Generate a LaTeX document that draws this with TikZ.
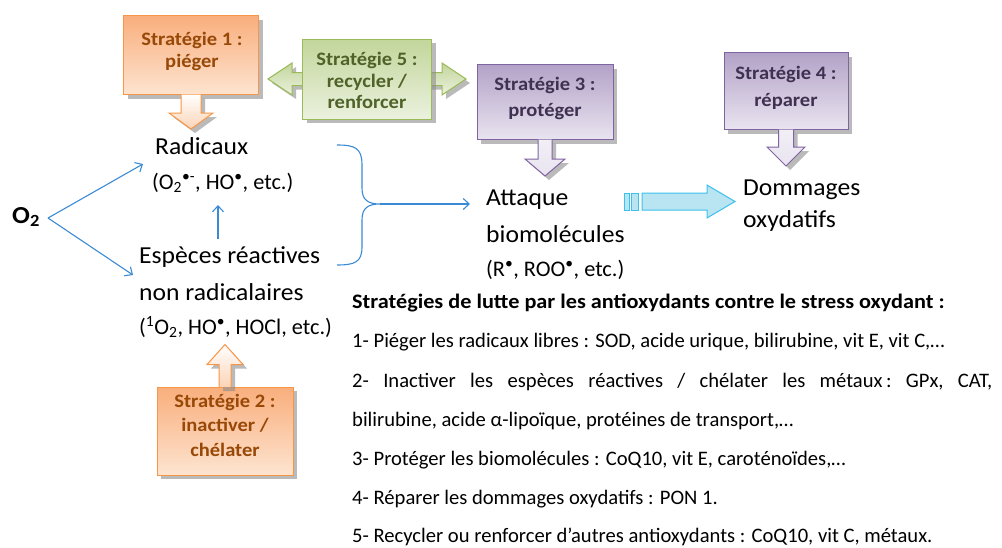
\documentclass[tikz,border=0pt]{standalone}
\usepackage{fontspec}
\setmainfont{Carlito}
\newfontfamily\wideb[FakeStretch=1.08]{Carlito}
\newfontfamily\widea[FakeStretch=1.05]{Carlito}
\usetikzlibrary{arrows.meta,shadows,calc}
\definecolor{blueline}{HTML}{3B8BD4}
\definecolor{orBorder}{HTML}{F79646}
\definecolor{orTop}{HTML}{F9AE7C}
\definecolor{orBot}{HTML}{FDE4D0}
\definecolor{orText}{HTML}{984807}
\definecolor{grBorder}{HTML}{9BBB59}
\definecolor{grTop}{HTML}{C3D69B}
\definecolor{grBot}{HTML}{EBF1DE}
\definecolor{grText}{HTML}{4F6228}
\definecolor{puBorder}{HTML}{8064A2}
\definecolor{puTop}{HTML}{B3A2C7}
\definecolor{puBot}{HTML}{E9E4F0}
\definecolor{puText}{HTML}{3F3151}
\definecolor{cyBorder}{HTML}{3CC0EC}
\definecolor{cyFill}{HTML}{B9E4F2}
\newcommand\blockdown[6]{\draw[#6] ($(#1.south)+(-#2,-0.5)$) -- ($(#1.south)+(-#2,#4)$) -- ($(#1.south)+(-#3,#4)$) -- ($(#1.south)+(0,#4+#5)$) -- ($(#1.south)+(#3,#4)$) -- ($(#1.south)+(#2,#4)$) -- ($(#1.south)+(#2,-0.5)$);}
\newcommand\blockup[6]{\draw[#6] ($(#1.north)+(-#2,0.5)$) -- ($(#1.north)+(-#2,-#4)$) -- ($(#1.north)+(-#3,-#4)$) -- ($(#1.north)+(0,-#4-#5)$) -- ($(#1.north)+(#3,-#4)$) -- ($(#1.north)+(#2,-#4)$) -- ($(#1.north)+(#2,0.5)$);}
\begin{document}
\begin{tikzpicture}[x=1pt,y=-1pt,
  shad/.style={drop shadow={shadow xshift=4pt,shadow yshift=-4pt,fill=black!45,opacity=0.6}},
  obox/.style={rectangle,draw=orBorder,line width=1pt,top color=orTop,bottom color=orBot,shad},
  gbox/.style={rectangle,draw=grBorder,line width=1pt,top color=grTop,bottom color=grBot,shad},
  pbox/.style={rectangle,draw=puBorder,line width=1pt,top color=puTop,bottom color=puBot,shad},
  oarr/.style={draw=orBorder,line width=1pt,top color=white,bottom color=orBot!70!orTop,shad},
  parr/.style={draw=puBorder,line width=1pt,top color=puBot!60!white,bottom color=puBot,shad},
  garr/.style={draw=grBorder,line width=1pt,top color=grTop,bottom color=grBot,shad},
  btxt/.style={font=\fontsize{19}{23}\wideb\bfseries,anchor=base,inner sep=0pt},
  big/.style={font=\fontsize{24.4}{28}\widea,anchor=base west,inner sep=0pt},
  small/.style={font=\fontsize{22.3}{26}\selectfont,anchor=base west,inner sep=0pt},
  lst/.style={font=\fontsize{20.6}{24}\selectfont,anchor=base west,inner sep=0pt},
  blk/.style={draw=blueline,line width=1.1pt,-{Straight Barb[length=6pt,width=11pt]}},
]
\useasboundingbox (0,0) rectangle (1002,547);

% ---- Strategy 5 double arrow (behind its box)
\coordinate (g5) at (367,79);
\draw[garr] ($(g5)+(-64,-6.5)$) -- ($(g5)+(-75,-6.5)$) -- ($(g5)+(-75,-16)$) -- ($(g5)+(-99,0)$) -- ($(g5)+(-75,16)$) -- ($(g5)+(-75,6.5)$) -- ($(g5)+(75,6.5)$) -- ($(g5)+(75,16)$) -- ($(g5)+(99,0)$) -- ($(g5)+(75,-16)$) -- ($(g5)+(75,-6.5)$) -- cycle;
\node[gbox,minimum width=129,minimum height=80] (s5) at (g5) {};
\node[btxt,text=grText] (s5a) at (367,65) {Stratégie 5 :};
\node[btxt,text=grText] (s5b) at (367,87) {recycler /};
\node[btxt,text=grText] (s5c) at (367,108) {renforcer};

% ---- Strategy 1
\node[obox,minimum width=135,minimum height=79] (s1) at (191,55) {};
\node[btxt,text=orText] (s1a) at (192,45) {Stratégie 1 :};
\node[btxt,text=orText] (s1b) at (192,67) {piéger};
\blockdown{s1}{10}{22}{18}{16}{oarr}

% ---- Strategy 3
\node[pbox,minimum width=136,minimum height=75] (s3) at (545,102) {};
\node[btxt,text=puText] (s3a) at (545,90) {Stratégie 3 :};
\node[btxt,text=puText] (s3b) at (545,116) {protéger};
\blockdown{s3}{7}{20}{19}{17}{parr}

% ---- Strategy 4
\node[pbox,minimum width=124,minimum height=77] (s4) at (786,91) {};
\node[btxt,text=puText] (s4a) at (786,79) {Stratégie 4 :};
\node[btxt,text=puText] (s4b) at (786,106) {réparer};
\blockdown{s4}{7.5}{19}{17}{19}{parr}

% ---- Strategy 2
\node[obox,minimum width=136,minimum height=88] (s2) at (225,431) {};
\node[btxt,text=orText] (s2a) at (225,407) {Stratégie 2 :};
\node[btxt,text=orText] (s2b) at (225,431) {inactiver /};
\node[btxt,text=orText] (s2c) at (225,456) {chélater};
\blockup{s2}{6}{18}{22}{20}{oarr}

% ---- Main labels
\node[big,font=\fontsize{24.4}{28}\wideb\bfseries] (o2) at (12,223) {O\textsubscript{2}};
\node[big] (rad) at (155,154) {Radicaux};
\node[small] (radsub) at (152,189) {(O\textsubscript{2}\textsuperscript{•-}, HO\textsuperscript{•}, etc.)};
\node[big] (esp) at (139,263) {Espèces réactives};
\node[big] (esp2) at (139,300) {non radicalaires};
\node[small] (espsub) at (139,334) {(\textsuperscript{1}O\textsubscript{2}, HO\textsuperscript{•}, HOCl, etc.)};
\node[big] (att) at (486,205) {Attaque};
\node[big] (att2) at (486,242) {biomolécules};
\node[small] (attsub) at (486,276) {(R\textsuperscript{•}, ROO\textsuperscript{•}, etc.)};
\node[big] (dom) at (743,195) {Dommages};
\node[big] (dom2) at (743,227) {oxydatifs};

% ---- Thin blue connectors
\coordinate (o2out) at (48,218);
\draw[blk] (o2out) -- ($(rad.base west)+(-12,10)$);
\draw[blk] (o2out) -- ($(esp.base west)+(-6,12)$);
\draw[blk] ($(esp.base west)+(79,-24)$) -- ($(radsub.base west)+(66,16)$);
\coordinate (brtop) at (337,145);
\coordinate (brbot) at (337,265);
\coordinate (brtip) at (380,204);
\draw[draw=blueline,line width=1.1pt] (brtop) .. controls (355,145) and (362,148) .. (362,165) -- (362,188) .. controls (362,200) and (368,204) .. (brtip) .. controls (368,204) and (362,208) .. (362,220) -- (362,247) .. controls (362,262) and (355,265) .. (brbot);
\draw[blk] (brtip) -- ($(att.base west)+(-16,-1)$);

% ---- Cyan block arrow
\draw[draw=cyBorder,fill=cyFill,line width=1pt] (624,193) rectangle (629,210);
\draw[draw=cyBorder,fill=cyFill,line width=1pt] (631.5,193) rectangle (638,210);
\draw[draw=cyBorder,fill=cyFill,line width=1pt] (642,193) -- (707,193) -- (707,185) -- (735,201.5) -- (707,218) -- (707,210) -- (642,210) -- cycle;

% ---- Strategy list
\node[lst,font=\fontsize{20.6}{24}\wideb\bfseries] (h) at (352,308) {Stratégies de lutte par les antioxydants contre le stress oxydant :};
\node[lst] (l1) at (352,347) {1- Piéger les radicaux libres : SOD, acide urique, bilirubine, vit E, vit C,…};
\node[lst] (l2) at (352,387) {\hbox to 640pt{2-\hfill Inactiver\hfill les\hfill espèces\hfill réactives\hfill /\hfill chélater\hfill les\hfill métaux\,:\hfill GPx,\hfill CAT,}};
\node[lst] (l2b) at (352,426) {bilirubine, acide α-lipoïque, protéines de transport,…};
\node[lst] (l3) at (352,465) {3- Protéger les biomolécules : CoQ10, vit E, caroténoïdes,…};
\node[lst] (l4) at (352,504) {4- Réparer les dommages oxydatifs : PON 1.};
\node[lst] (l5) at (352,542) {5- Recycler ou renforcer d’autres antioxydants : CoQ10, vit C, métaux.};
\end{tikzpicture}
\end{document}
